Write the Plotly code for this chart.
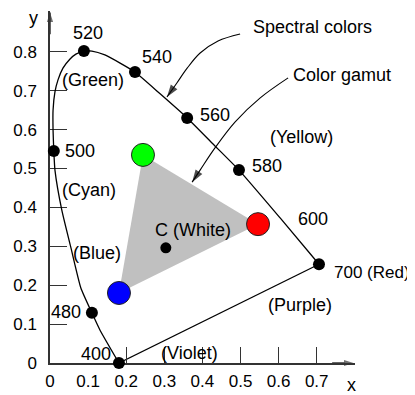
import plotly.graph_objects as go

# ---- data ----
locus_x = [0.181, 0.131, 0.110, 0.081, 0.055, 0.031, 0.013, 0.010, 0.008, 0.008, 0.013, 0.021, 0.034, 0.052, 0.068, 0.089, 0.110, 0.144, 0.184, 0.223, 0.289, 0.360, 0.428, 0.496, 0.604, 0.706]
locus_y = [0.000, 0.085, 0.129, 0.193, 0.296, 0.393, 0.496, 0.545, 0.599, 0.650, 0.697, 0.728, 0.758, 0.781, 0.794, 0.802, 0.802, 0.792, 0.771, 0.748, 0.692, 0.630, 0.563, 0.496, 0.373, 0.254]

purple_x = [0.706, 0.181]
purple_y = [0.254, 0.000]

wave_labels = ["400", "480", "500", "520", "540", "560", "580", "700"]
wave_x = [0.181, 0.110, 0.010, 0.089, 0.223, 0.360, 0.496, 0.706]
wave_y = [0.000, 0.129, 0.545, 0.802, 0.748, 0.630, 0.496, 0.254]

prim_names = ["Green", "Red", "Blue"]
prim_x = [0.244, 0.546, 0.181]
prim_y = [0.535, 0.357, 0.180]
prim_colors = ["#00ff00", "#ff0000", "#0000ff"]

white_x = [0.304]
white_y = [0.296]

spec_arrow_x = [0.499, 0.441, 0.394, 0.360, 0.333, 0.307]
spec_arrow_y = [0.846, 0.828, 0.797, 0.758, 0.720, 0.684]
gamut_arrow_x = [0.625, 0.551, 0.486, 0.433, 0.394, 0.373]
gamut_arrow_y = [0.733, 0.681, 0.620, 0.553, 0.496, 0.465]

x_tick_vals = [0, 0.1, 0.2, 0.3, 0.4, 0.5, 0.6, 0.7]
x_tick_text = ["0", "0.1", "0.2", "0.3", "0.4", "0.5", "0.6", "0.7"]
x_tick_marks = [0.2, 0.3, 0.4, 0.5, 0.6, 0.7]
y_tick_vals = [0, 0.1, 0.2, 0.3, 0.4, 0.5, 0.6, 0.7, 0.8]
y_tick_text = ["0", "0.1", "0.2", "0.3", "0.4", "0.5", "0.6", "0.7", "0.8"]

labels = [
    ("520", 0.100, 0.848), ("540", 0.281, 0.787), ("560", 0.433, 0.638),
    ("580", 0.570, 0.506), ("600", 0.690, 0.370),
    ("500", 0.079, 0.545), ("480", 0.042, 0.131), ("400", 0.121, 0.023),
    ("(Green)", 0.113, 0.728), ("(Cyan)", 0.102, 0.445), ("(Blue)", 0.123, 0.283),
    ("C (White)", 0.375, 0.342), ("(Yellow)", 0.659, 0.581), ("(Purple)", 0.656, 0.149),
    ("(Violet)", 0.365, 0.026), ("Spectral colors", 0.690, 0.864), ("Color gamut", 0.766, 0.740),
]

X_MAX = 0.8005
Y_MAX = 0.905
AX = "#333333"
FONT = "Arial, Liberation Sans, Helvetica, sans-serif"
ANN = 18

fig = go.Figure()

# gamut triangle
fig.add_trace(go.Scatter(x=prim_x + [prim_x[0]], y=prim_y + [prim_y[0]], mode="lines",
                         fill="toself", fillcolor="#c0c0c0", line=dict(width=0),
                         hoverinfo="skip"))
# spectral locus
fig.add_trace(go.Scatter(x=locus_x, y=locus_y, mode="lines",
                         line=dict(color="black", width=1.3, shape="spline", smoothing=0.5),
                         cliponaxis=False))
fig.add_trace(go.Scatter(x=purple_x, y=purple_y, mode="lines",
                         line=dict(color="black", width=1.3), cliponaxis=False))
# wavelength dots
fig.add_trace(go.Scatter(x=wave_x, y=wave_y, mode="markers", text=wave_labels,
                         marker=dict(color="black", size=12), cliponaxis=False))
# white point
fig.add_trace(go.Scatter(x=white_x, y=white_y, mode="markers", xaxis="x2",
                         marker=dict(color="black", size=11), cliponaxis=False))
# primaries
fig.add_trace(go.Scatter(x=prim_x, y=prim_y, mode="markers", text=prim_names,
                         marker=dict(color=prim_colors, size=23,
                                     line=dict(color="#222222", width=1)),
                         cliponaxis=False))

# annotation arrows
for ax_, ay_ in [(spec_arrow_x, spec_arrow_y), (gamut_arrow_x, gamut_arrow_y)]:
    n = len(ax_)
    fig.add_trace(go.Scatter(x=ax_, y=ay_, mode="lines+markers",
                             line=dict(color="black", width=1.1, shape="spline"),
                             marker=dict(symbol="arrow", size=[0] * (n - 1) + [13],
                                         angleref="previous", color="black",
                                         line=dict(width=0)),
                             cliponaxis=False))

# axis arrowheads at the ends of the axis lines
fig.add_trace(go.Scatter(x=[0.0, 0.0], y=[Y_MAX - 0.06, Y_MAX - 0.004], mode="lines+markers",
                         line=dict(color=AX, width=1.5),
                         marker=dict(symbol="arrow", size=[0, 10], angleref="previous",
                                     color=AX, line=dict(width=0)), cliponaxis=False))
fig.add_trace(go.Scatter(x=[X_MAX - 0.06, X_MAX - 0.004], y=[0.0, 0.0], mode="lines+markers",
                         line=dict(color=AX, width=1.5),
                         marker=dict(symbol="arrow", size=[0, 10], angleref="previous",
                                     color=AX, line=dict(width=0)), cliponaxis=False))

for txt, x, y in labels:
    fig.add_annotation(x=x, y=y, text=txt, showarrow=False,
                       font=dict(family=FONT, size=ANN, color="black"))
# label of the 700 nm point, placed to its right
fig.add_annotation(x=wave_x[-1], y=wave_y[-1], text="700 (Red)", showarrow=False,
                   xanchor="left", xshift=13, yshift=-8,
                   font=dict(family=FONT, size=17, color="black"))
# axis names
fig.add_annotation(xref="paper", yref="paper", x=-0.0557, y=0.980, text="y", showarrow=False,
                   xanchor="center", yanchor="middle",
                   font=dict(family=FONT, size=ANN, color="black"))
fig.add_annotation(xref="paper", yref="paper", x=0.987, y=-0.0625, text="x", showarrow=False,
                   xanchor="center", yanchor="middle",
                   font=dict(family=FONT, size=ANN, color="black"))

fig.update_layout(
    width=407, height=387,
    margin=dict(l=42, r=60, t=3, b=32, autoexpand=False),
    paper_bgcolor="white", plot_bgcolor="white",
    showlegend=False,
    font=dict(family=FONT, size=17, color="black"),
    xaxis=dict(range=[0, X_MAX], showgrid=False, zeroline=False, automargin=False,
               showline=True, linecolor=AX, linewidth=1.5, layer="below traces",
               tickmode="array", tickvals=x_tick_vals, ticktext=x_tick_text,
               ticks="", tickfont=dict(size=17), ticklabelstandoff=2),
    xaxis2=dict(range=[0, X_MAX], overlaying="x", anchor="y", side="bottom",
                showgrid=False, zeroline=False, showline=False, automargin=False,
                tickmode="array", tickvals=x_tick_marks, ticks="inside",
                ticklen=16, tickwidth=1.2, tickcolor=AX, showticklabels=False),
    yaxis=dict(range=[0, Y_MAX], showgrid=False, zeroline=False, automargin=False,
               showline=True, linecolor=AX, linewidth=1.5, layer="below traces",
               tickmode="array", tickvals=y_tick_vals, ticktext=y_tick_text,
               ticks="inside", ticklen=17, tickwidth=1.2, tickcolor=AX,
               tickfont=dict(size=17), ticklabelstandoff=8),
)

fig.write_html("out.html")
